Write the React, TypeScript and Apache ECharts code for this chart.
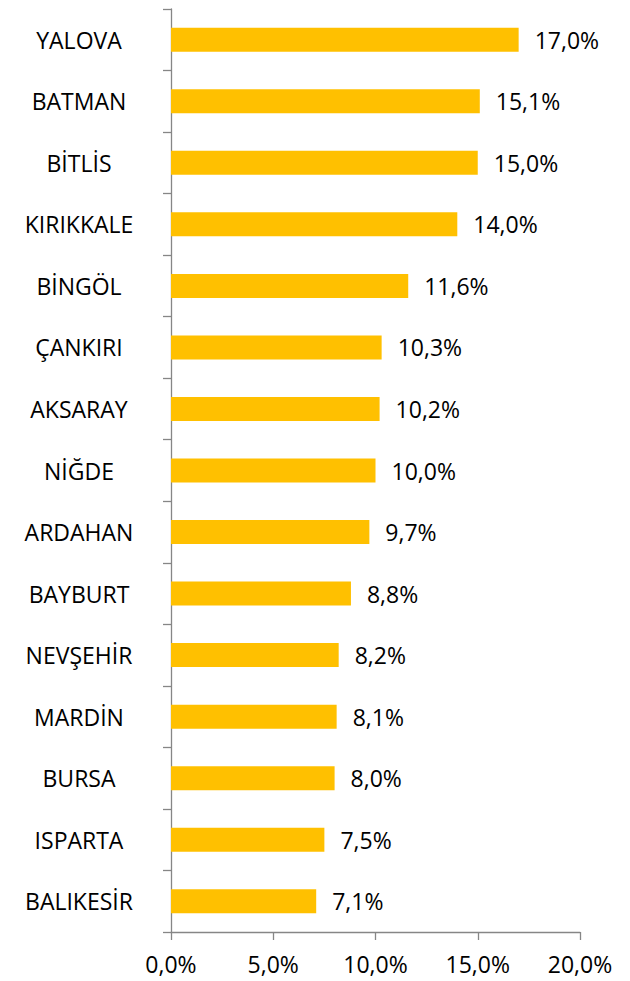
import React, { useEffect, useRef } from "react";
import * as echarts from "echarts";

const categories = [
  "YALOVA", "BATMAN", "BİTLİS", "KIRIKKALE", "BİNGÖL", "ÇANKIRI", "AKSARAY", "NİĞDE",
  "ARDAHAN", "BAYBURT", "NEVŞEHİR", "MARDİN", "BURSA", "ISPARTA", "BALIKESİR",
];
const values = [17.0, 15.1, 15.0, 14.0, 11.6, 10.3, 10.2, 10.0, 9.7, 8.8, 8.2, 8.1, 8.0, 7.5, 7.1];

const fmt = (v: number) => v.toFixed(1).replace(".", ",") + "%";
const FONT = "'Open Sans', sans-serif";

export default function App() {
  const ref = useRef<HTMLDivElement>(null);
  useEffect(() => {
    const chart = echarts.init(ref.current!, null, { renderer: "svg" });
    chart.setOption({
      animation: false,
      grid: { left: 171, right: 50, top: 9, bottom: 49 },
      xAxis: {
        type: "value",
        min: 0,
        max: 20,
        interval: 5,
        splitLine: { show: false },
        axisLine: { show: true, lineStyle: { color: "#868686", width: 1.3 } },
        axisTick: { show: true, length: 8, lineStyle: { color: "#868686", width: 1.3 } },
        axisLabel: {
          formatter: (v: number) => fmt(v),
          fontFamily: FONT,
          fontSize: 23,
          color: "#000",
          margin: 20,
        },
      },
      yAxis: {
        type: "category",
        data: categories,
        inverse: true,
        axisLine: { show: true, lineStyle: { color: "#868686", width: 1.3 } },
        axisTick: { show: true, length: 8, inside: false, lineStyle: { color: "#868686", width: 1.3 } },
        axisLabel: {
          fontFamily: FONT,
          fontSize: 23,
          color: "#000",
          align: "center",
          margin: 92,
        },
      },
      series: [
        {
          type: "bar",
          data: values,
          barWidth: 24,
          itemStyle: { color: "#FFC000" },
          label: {
            show: true,
            position: "right",
            distance: 16,
            formatter: (p: any) => fmt(p.value),
            fontFamily: FONT,
            fontSize: 23,
            color: "#000",
          },
        },
      ],
    });
    return () => chart.dispose();
  }, []);
  return <div ref={ref} style={{ width: 630, height: 981, position: "absolute", left: 0, top: 0 }} />;
}
